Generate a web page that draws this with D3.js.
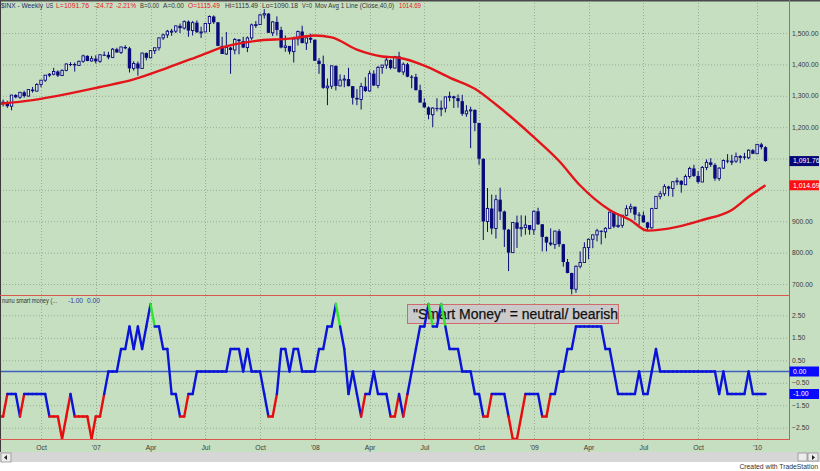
<!DOCTYPE html>
<html><head><meta charset="utf-8">
<script src="https://cdn.jsdelivr.net/npm/d3@7"></script>
<style>
body{margin:0;background:#fff;}
svg{display:block;font-family:Arial,"Liberation Sans",sans-serif;}
</style>
</head><body>
<svg id="c" width="820" height="471"></svg>
<script>
// ---------- DATA ----------
const quarterBars   = [10,23,36,49,62,75,88,101,114,127,140,153,166,180];
const quarterLabels = ["Oct","'07","Apr","Jul","Oct","'08","Apr","Jul","Oct","'09","Apr","Jul","Oct","'10"];
const priceGrid  = [700,800,900,1000,1100,1200,1300,1400,1500];
const priceTicks = [700,800,900,1200,1300,1400,1500];   // 1,000 and 1,100 sit under the value boxes
const smTicks = [2.5,1.5,0.5,-0.5,-1.5,-2.5];

// weekly $INX bars, Jul 28 2006 .. Jan 22 2010
const close = [
1278.6,1279.4,1266.7,1302.3,1295.1,1311.0,1298.9,1319.7,1314.8,1335.9,1349.6,1365.6,1368.6,1377.3,1364.3,1380.9,1401.2,1401.0,1396.7,1409.8,1427.1,1410.8,1418.3,
1409.7,1430.7,1430.5,1422.2,1448.4,1438.1,1455.5,1451.2,1387.2,1402.8,1386.9,1436.1,1420.9,1443.8,1452.9,1484.4,1494.1,1505.6,1505.9,1522.8,1515.7,1536.3,1507.7,1532.9,1502.6,1503.4,1530.4,1552.5,1534.1,1459.0,1433.1,1453.6,1445.9,1479.4,1474.0,1453.6,1484.3,1525.8,1526.8,1557.6,1561.8,1500.6,1535.3,1509.7,1453.7,1458.7,1440.7,1481.1,1504.7,1468.0,1484.5,1478.5,
1411.6,1401.0,1325.2,1330.6,1395.4,1331.3,1350.0,1353.1,1330.6,1293.4,1288.1,1329.5,1315.2,1370.4,1332.8,1390.3,1397.8,1413.9,1388.3,1425.4,1375.9,1400.4,1360.7,1360.0,1317.9,1278.4,1262.9,1239.5,1260.7,1257.8,1260.3,1296.3,1298.2,1292.2,1282.8,1242.3,1251.7,1255.1,1213.3,1099.2,899.2,940.6,876.8,968.8,931.0,873.3,800.0,896.2,876.1,879.7,887.9,872.8,
931.8,890.4,850.1,832.0,825.9,868.6,826.8,770.1,735.1,683.4,756.6,768.5,815.9,842.5,856.6,869.6,866.2,877.5,929.2,882.9,887.0,919.1,940.1,946.2,921.2,918.9,896.4,879.1,940.4,979.3,987.5,1010.5,1004.1,1026.1,1028.9,1016.4,1042.7,1068.3,1044.4,1025.2,1071.5,1087.7,1079.6,1036.2,1069.3,1093.5,1091.4,1091.5,1106.0,1106.4,1102.5,1126.5,1115.1,
1145.0,1136.0,1091.8];
const open = [
1240.3,1278.6,1279.4,1266.7,1302.3,1295.1,1311.0,1298.9,1319.7,1314.8,1335.9,1349.6,1365.6,1368.6,1377.3,1364.3,1380.9,1401.2,1401.0,1396.7,1409.8,1427.1,1410.8,
1418.3,1409.7,1430.7,1430.5,1422.2,1448.4,1438.1,1455.5,1451.2,1387.2,1402.8,1386.9,1436.1,1420.9,1443.8,1452.9,1484.4,1494.1,1505.6,1505.9,1522.8,1515.7,1536.3,1507.7,1532.9,1502.6,1503.4,1530.4,1552.5,1534.1,1459.0,1433.1,1453.6,1445.9,1479.4,1474.0,1453.6,1484.3,1525.8,1526.8,1557.6,1561.8,1500.6,1535.3,1509.7,1453.7,1458.7,1440.7,1481.1,1504.7,1468.0,1484.5,
1478.5,1411.6,1401.0,1325.2,1330.6,1395.4,1331.3,1350.0,1353.1,1330.6,1293.4,1288.1,1329.5,1315.2,1370.4,1332.8,1390.3,1397.8,1413.9,1388.3,1425.4,1375.9,1400.4,1360.7,1360.0,1317.9,1278.4,1262.9,1239.5,1260.7,1257.8,1260.3,1296.3,1298.2,1292.2,1282.8,1242.3,1251.7,1255.1,1213.3,1099.2,899.2,940.6,876.8,968.8,931.0,873.3,800.0,896.2,876.1,879.7,887.9,
872.8,931.8,890.4,850.1,832.0,825.9,868.6,826.8,770.1,735.1,683.4,756.6,768.5,815.9,842.5,856.6,869.6,866.2,877.5,929.2,882.9,887.0,919.1,940.1,946.2,921.2,918.9,896.4,879.1,940.4,979.3,987.5,1010.5,1004.1,1026.1,1028.9,1016.4,1042.7,1068.3,1044.4,1025.2,1071.5,1087.7,1079.6,1036.2,1069.3,1093.5,1091.4,1091.5,1106.0,1106.4,1102.5,1126.5,
1115.1,1145.0,1136.0];
const high = [
1280.7,1287.8,1284,1302.3,1305,1312,1316,1320,1328,1340,1350,1366,1372,1389,1381,1384,1403,1407,1406,1412,1431,1429,1427,
1429,1431,1441,1440,1452,1453,1456,1461,1456,1410,1409,1437,1438,1445,1453,1485,1498,1510,1513,1523,1530,1540,1540,1538,1540,1520,1532,1556,1556,1535,1488,1503,1456,1484,1481,1488,1489,1530,1538,1561,1576,1563,1538,1553,1520,1492,1459,1488,1508,1523,1485,1498,
1479,1420,1428,1355,1396,1396,1368,1366,1389,1331,1321,1341,1359,1380,1381,1395,1398,1422,1416,1426,1440,1406,1405,1366,1370,1335,1292,1266,1263,1292,1285,1297,1313,1300,1304,1303,1270,1265,1256,1214,1100,1006,985,984,1007,934,875,897,918,919,918,888,
934,943,891,851,877,870,875,828,780,736,759,804,833,845,857,876,871,881,930,931,924,920,951,956,947,929,931,898,943,980,996,1018,1013,1027,1039,1031,1049,1074,1080,1060,1076,1097,1101,1085,1072,1097,1114,1112,1119,1111,1118,1129,1130,
1146,1150,1139];
const low = [
1240.3,1265.7,1261.3,1253.6,1292,1290,1294,1298,1310,1314,1327,1344,1360,1365,1360,1363,1378,1394,1377,1395,1405,1410,1409,
1403,1405,1427,1416,1420,1437,1433,1448,1374,1380,1364,1386,1413,1420,1433,1444,1478,1484,1491,1500,1500,1511,1488,1492,1500,1484,1503,1503,1529,1458,1433,1430,1370,1432,1432,1452,1439,1478,1516,1526,1546,1500,1490,1492,1451,1440,1432,1406,1460,1467,1446,1468,
1411,1370,1322,1270,1322,1317,1331,1327,1330,1272,1270,1256,1312,1313,1331,1324,1370,1386,1384,1387,1373,1366,1359,1324,1317,1278,1262,1225,1200,1250,1235,1247,1282,1261,1262,1236,1233,1133,1187,1080,840,866,858,845,904,818,741,800,815,851,857,857,
857,888,804,804,821,812,818,755,734,667,672,750,768,779,814,836,826,846,875,878,879,879,916,927,903,888,896,869,876,940,970,980,980,978,1015,991,1016,1036,1041,1020,1025,1063,1073,1029,1029,1067,1085,1079,1086,1085,1096,1098,1114,
1115,1129,1090];

// 40-week moving average of close at these bars
const maBars   = [0,8,16,24,32,40,48,53,61,69,75,79,85,91,95,101,107,113,118,127,133,138,145,150,154,161,167,174,178,182];
const maValues = [1274,1286,1305,1328,1352,1389,1429,1454,1475,1482,1492,1486,1447,1425,1421,1396,1358,1322,1272,1168,1092,1014,936,903,870,882,904,936,978,1014.69];

// "nunu smart money" indicator, one value per bar
const smartMoney = [
-2,-2,-1,-1,-1,-2,-1,-1,-1,-1,-1,-1,-2,-2,-2,-3,-2,-1,-2,-2,-2,-2,-3,-2,-2,-1,0,0,0,1,1,2,1,2,1,2,3,2,2,1,1,-1,-1,-2,-2,-1,-1,0,0,0,
0,0,0,0,0,1,1,1,0,1,0,0,0,-1,-2,-2,-1,1,1,0,1,1,0,0,0,0,1,1,2,2,3,2,1,-1,0,-1,-2,-1,-1,0,-1,-1,-1,-2,-2,-1,-2,-1,0,
1,2,2,3,2,2,3,2,1,1,1,0,0,0,-1,-1,-2,-2,-1,-1,-1,-1,-2,-3,-3,-2,-1,-1,-1,-1,-2,-2,-1,-1,0,0,1,1,2,2,2,2,2,2,2,1,1,0,-1,-1,-1,-1,-1,0,-1,-1,0,1,0,
0,0,0,0,0,0,0,0,0,0,0,0,0,-1,0,-1,-1,-1,-1,-1,0,-1,-1,-1,-1];

// ---------- LAYOUT ----------
const svg = d3.select("#c");
const BG = "#c6dfc1", NAVY = "#0a0a7a", RED = "#e8141e", BORDER = "#d8574f";
const plotR = 789;
const x  = d3.scaleLinear().domain([0, 182]).range([-1.1, 765.5]);
const yP = d3.scaleLinear().domain([700, 1500]).range([284, 33]);
const yS = d3.scaleLinear().domain([-3, 3]).range([439, 304]);

// backgrounds
svg.append("rect").attr("x",0).attr("y",0).attr("width",820).attr("height",471).attr("fill","#ffffff");
svg.append("rect").attr("x",0).attr("y",0).attr("width",820).attr("height",452).attr("fill",BG);
svg.append("rect").attr("x",0).attr("y",452).attr("width",820).attr("height",10).attr("fill","#d6d6d6");
svg.append("rect").attr("x",1).attr("y",453).attr("width",10).attr("height",9).attr("fill","#ececec").attr("stroke","#777").attr("stroke-width",0.6);
svg.append("rect").attr("x",798).attr("y",453).attr("width",9).attr("height",8).attr("fill","#ececec").attr("stroke","#777").attr("stroke-width",0.6);
svg.append("rect").attr("x",808).attr("y",453).attr("width",10).attr("height",8).attr("fill","#ececec").attr("stroke","#777").attr("stroke-width",0.6);
svg.append("path").attr("d","M7,455 L4,457.5 L7,460 Z").attr("fill","#222");
svg.append("path").attr("d","M812,455 L815,457.5 L812,460 Z").attr("fill","#222");

// clip paths
const defs = svg.append("defs");
defs.append("clipPath").attr("id","cpTop").append("rect").attr("x",1).attr("y",1).attr("width",plotR-1).attr("height",294);
defs.append("clipPath").attr("id","cpBot").append("rect").attr("x",1).attr("y",297).attr("width",plotR-1).attr("height",142);

// grid
const grid = svg.append("g").attr("stroke","#8d9e8b").attr("stroke-width",0.8).attr("stroke-dasharray","1,2");
grid.selectAll(".hp").data(priceGrid).join("line").attr("x1",0).attr("x2",plotR+2).attr("y1",d=>yP(d)+0.5).attr("y2",d=>yP(d)+0.5);
grid.selectAll(".hs").data(smTicks).join("line").attr("x1",0).attr("x2",plotR+2).attr("y1",d=>yS(d)+0.5).attr("y2",d=>yS(d)+0.5);
grid.selectAll(".v1").data(quarterBars).join("line").attr("x1",d=>Math.round(x(d))+0.5).attr("x2",d=>Math.round(x(d))+0.5).attr("y1",0).attr("y2",295);
grid.selectAll(".v2").data(quarterBars).join("line").attr("x1",d=>Math.round(x(d))+0.5).attr("x2",d=>Math.round(x(d))+0.5).attr("y1",297).attr("y2",439);

// pane borders
svg.append("line").attr("x1",0).attr("x2",820).attr("y1",0.5).attr("y2",0.5).attr("stroke","#4a4a4a").attr("stroke-width",2);
svg.append("line").attr("x1",0.5).attr("x2",0.5).attr("y1",0).attr("y2",452).attr("stroke","#3a3a3a").attr("stroke-width",1);
svg.append("line").attr("x1",0).attr("x2",plotR).attr("y1",295.5).attr("y2",295.5).attr("stroke",BORDER).attr("stroke-width",1);
svg.append("line").attr("x1",0).attr("x2",plotR).attr("y1",439.5).attr("y2",439.5).attr("stroke",BORDER).attr("stroke-width",1);
svg.append("line").attr("x1",plotR+0.5).attr("x2",plotR+0.5).attr("y1",0).attr("y2",440).attr("stroke",BORDER).attr("stroke-width",1);

// ---------- PRICE PANE ----------
const bars = d3.range(close.length).map(i => ({i, o:open[i], h:high[i], l:low[i], c:close[i]}));
const gTop = svg.append("g").attr("clip-path","url(#cpTop)");
gTop.selectAll(".wick").data(bars).join("line")
  .attr("x1",d=>x(d.i)).attr("x2",d=>x(d.i))
  .attr("y1",d=>yP(d.h)).attr("y2",d=>yP(d.l))
  .attr("stroke",NAVY).attr("stroke-width",1);
gTop.selectAll(".body").data(bars).join("rect")
  .attr("x",d=> d.c>=d.o ? x(d.i)-1.2 : x(d.i)-1.7)
  .attr("width",d=> d.c>=d.o ? 2.4 : 3.4)
  .attr("y",d=>yP(Math.max(d.o,d.c)))
  .attr("height",d=>Math.max(1, Math.abs(yP(d.o)-yP(d.c))))
  .attr("fill",d=> d.c>=d.o ? "#e9edf3" : NAVY)
  .attr("stroke",d=> d.c>=d.o ? NAVY : "none")
  .attr("stroke-width",0.9);

const maPts = maBars.map((b,k)=>[b, maValues[k]]);
gTop.append("path").datum(maPts)
  .attr("fill","none").attr("stroke","#e3141a").attr("stroke-width",2.4)
  .attr("d", d3.line().x(d=>x(d[0])).y(d=>yP(d[1])).curve(d3.curveMonotoneX));

// price axis labels
const axP = d3.axisRight(yP).tickValues(priceTicks).tickFormat(d3.format(",.2f")).tickSize(0).tickPadding(3);
const gAxP = svg.append("g").attr("transform",`translate(${plotR},0)`).call(axP);
gAxP.select(".domain").remove();
gAxP.selectAll("text").attr("font-size","6.8px").attr("fill","#3a3a3a").attr("font-family","Arial");

function valueBox(yc, txt, fill){
  svg.append("rect").attr("x",plotR+0.5).attr("y",yc-5).attr("width",29.5).attr("height",10).attr("fill",fill);
  svg.append("text").attr("x",plotR+4).attr("y",yc+2.4).attr("font-size","6.8px").attr("fill","#fff").text(txt);
}
valueBox(yP(close[close.length-1]), "1,091.76", "#050575");
valueBox(yP(maValues[maValues.length-1]), "1,014.69", "#ff1010");

// header
const hdr = svg.append("g").attr("font-size","6.6px");
const hdrParts = [
  ["$INX - Weekly",0,42,"#1e2a6a"],["US",45,7,"#1e2a6a"],["L=1091.76",55,33,RED],["-24.72",93,19,RED],["-2.21%",115,20,RED],
  ["B=0.00",139,19,"#333"],["A=0.00",162,21,"#333"],["O=1115.49",187,32,RED],["Hi=1115.49",224,33,"#333"],
  ["Lo=1090.18",261,36,"#333"],["V=0",301,10,"#333"],["Mov Avg 1 Line (Close,40,0)",314,79,"#333"],["1014.69",398,22,RED]
];
hdr.selectAll("text").data(hdrParts).join("text")
  .attr("x",d=>d[1]+1).attr("y",8).attr("textLength",d=>d[2]).attr("lengthAdjust","spacingAndGlyphs")
  .attr("fill",d=>d[3]).text(d=>d[0]);

// ---------- SMART MONEY PANE ----------
const gBot = svg.append("g").attr("clip-path","url(#cpBot)");
gBot.append("line").attr("x1",0).attr("x2",plotR).attr("y1",yS(0)).attr("y2",yS(0)).attr("stroke","#4060c0").attr("stroke-width",1.3);

// annotation box
svg.append("rect").attr("x",407.5).attr("y",304.5).attr("width",211).attr("height",19).attr("fill","#cacaca").attr("stroke","#d06a6a").attr("stroke-width",1);
svg.append("text").attr("x",413).attr("y",319).attr("font-size","14px").attr("fill","#111").attr("stroke","#111").attr("stroke-width",0.25)
  .attr("textLength",205).attr("lengthAdjust","spacingAndGlyphs").text("\"Smart Money\" = neutral/ bearish");

const segs = d3.range(smartMoney.length-1).map(i=>({i, a:smartMoney[i], b:smartMoney[i+1]}));
const segColor = v => v>=3 ? "#2ee62e" : (v<=-2 ? "#e50d0d" : "#0a14d8");
const gInd = svg.append("g").attr("clip-path","url(#cpBot)");
gInd.selectAll("line").data(segs).join("line")
  .attr("x1",d=>x(d.i)).attr("x2",d=>x(d.i+1))
  .attr("y1",d=>yS(d.a)).attr("y2",d=>yS(d.b))
  .attr("stroke",d=>segColor(d.a)).attr("stroke-width",2.4).attr("stroke-linecap","round");

const axS = d3.axisRight(yS).tickValues(smTicks).tickFormat(d3.format(".2f")).tickSize(0).tickPadding(3);
const gAxS = svg.append("g").attr("transform",`translate(${plotR},0)`).call(axS);
gAxS.select(".domain").remove();
gAxS.selectAll("text").attr("font-size","6.8px").attr("fill","#3a3a3a").attr("font-family","Arial");
valueBox(yS(0), "0.00", "#0a0aff");
valueBox(yS(smartMoney[smartMoney.length-1]), "-1.00", "#0a0aff");

const hdr2 = svg.append("g").attr("font-size","6.6px");
hdr2.append("text").attr("x",2).attr("y",303).attr("fill","#333").attr("textLength",55).attr("lengthAdjust","spacingAndGlyphs").text("nunu smart money (...");
hdr2.append("text").attr("x",68).attr("y",303).attr("fill","#2a3aa8").text("-1.00");
hdr2.append("text").attr("x",87).attr("y",303).attr("fill","#2a3aa8").text("0.00");

// ---------- TIME AXIS ----------
const axX = d3.axisBottom(x).tickValues(quarterBars).tickFormat((d,k)=>quarterLabels[k]).tickSize(0).tickPadding(5);
const gAxX = svg.append("g").attr("transform","translate(0,440)").call(axX);
gAxX.select(".domain").remove();
gAxX.selectAll("text").attr("font-size","6.8px").attr("fill","#3a3a3a").attr("font-family","Arial");

svg.append("text").attr("x",818).attr("y",469).attr("text-anchor","end").attr("font-size","6.8px").attr("fill","#333").text("Created with TradeStation");
</script>
</body></html>
